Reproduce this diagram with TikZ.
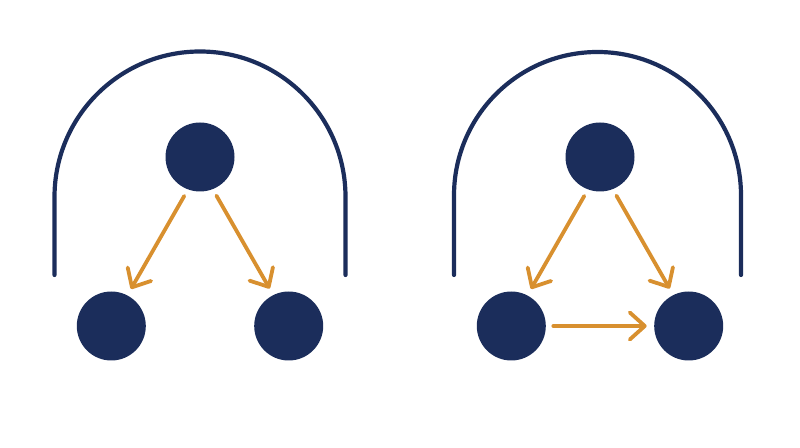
\documentclass[tikz,border=0pt]{standalone}
\usetikzlibrary{arrows.meta}
\definecolor{navy}{HTML}{1B2D5B}
\definecolor{ochre}{HTML}{D8902F}
\begin{document}
\begin{tikzpicture}[x=1pt,y=1pt,
  ball/.style={circle,fill=navy,draw=none,minimum size=69pt,inner sep=0pt,outer sep=7.5pt},
  archline/.style={draw=navy,line width=4.2pt,line cap=round},
  link/.style={draw=ochre,line width=3.8pt,line cap=round,
    -{Straight Barb[length=15pt,width=27pt,line width=3.8pt,round]}}]
\useasboundingbox (0,0) rectangle (800,447);
% left panel
\draw[archline] (54.5,172) -- (54.5,250) arc[start angle=180,end angle=0,radius=145.5] -- (345.5,172);
\node[ball] (t1) at (200,290) {};
\node[ball] (b1) at (111.3,121) {};
\node[ball] (b2) at (288.7,121) {};
\draw[link] (t1.-112.5) -- (b1.62.3);
\draw[link] (t1.-67.5) -- (b2.117.7);
% right panel
\draw[archline] (454,172) -- (454,251.5) arc[start angle=180,end angle=0,radius=143.5] -- (741,172);
\node[ball] (t2) at (600,290) {};
\node[ball] (b3) at (511.3,121) {};
\node[ball] (b4) at (688.7,121) {};
\draw[link] (t2.-112.5) -- (b3.62.3);
\draw[link] (t2.-67.5) -- (b4.117.7);
\draw[link] (b3.0) -- (b4.180);
\end{tikzpicture}
\end{document}
